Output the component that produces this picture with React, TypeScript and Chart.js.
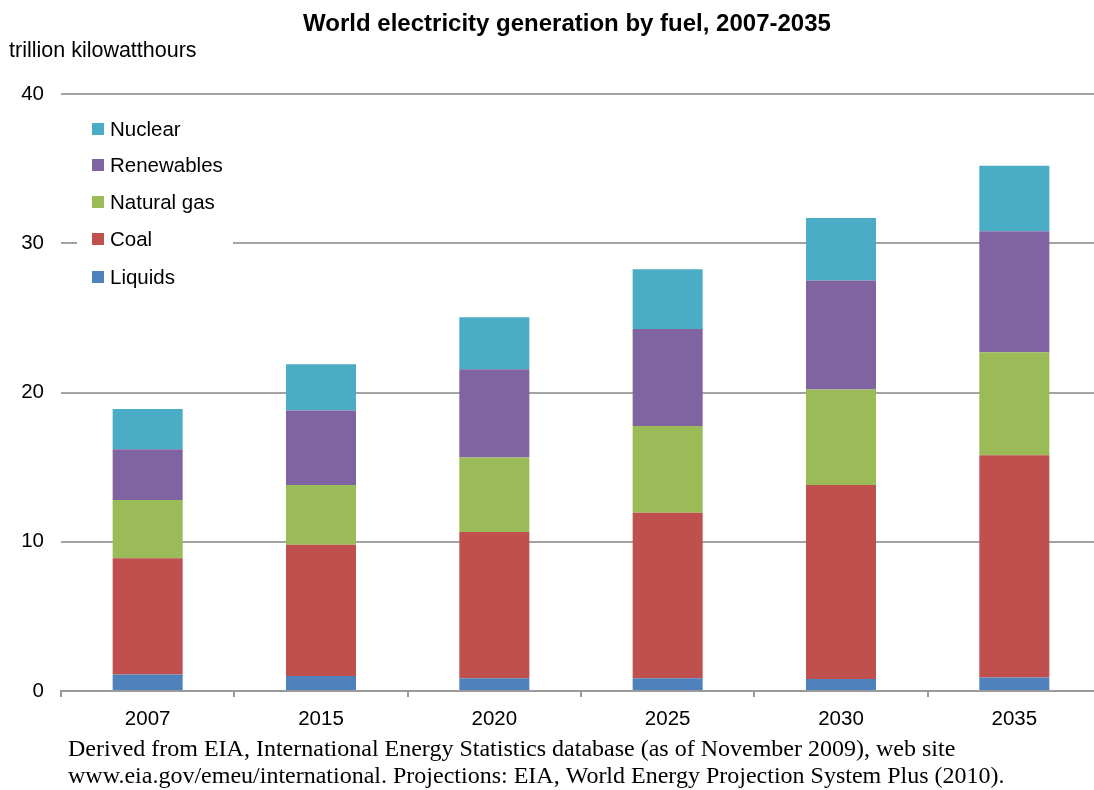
import React, { useEffect, useRef } from "react";
import { Chart, registerables } from "chart.js";

Chart.register(...registerables);

// World electricity generation by fuel (trillion kilowatthours)
const years = ["2007", "2015", "2020", "2025", "2030", "2035"];
const liquids = [1.1, 1.0, 0.85, 0.85, 0.8, 0.9];
const coal = [7.8, 8.8, 9.8, 11.1, 13.0, 14.9];
const naturalGas = [3.9, 4.0, 5.0, 5.8, 6.4, 6.9];
const renewables = [3.4, 5.0, 5.9, 6.5, 7.3, 8.1];
const nuclear = [2.7, 3.1, 3.5, 4.0, 4.2, 4.4];

const yTicks = [0, 10, 20, 30, 40];

const titleText = "World electricity generation by fuel, 2007-2035";
const unitText = "trillion kilowatthours";
const sourceLines = [
  "Derived from EIA, International Energy Statistics database (as of November 2009), web site",
  "www.eia.gov/emeu/international. Projections: EIA, World Energy Projection System Plus (2010).",
];

const COLORS = {
  liquids: "#4f81bd",
  coal: "#c0504d",
  gas: "#9bbb59",
  renewables: "#8064a2",
  nuclear: "#4bacc6",
};

const SANS = "'Liberation Sans', Arial, sans-serif";
const SERIF = "'Liberation Serif', 'Times New Roman', serif";

const W = 1101;
const H = 790;

// Legend entries, top to bottom (reverse of stacking order)
const legendItems = [
  { label: "Nuclear", color: COLORS.nuclear },
  { label: "Renewables", color: COLORS.renewables },
  { label: "Natural gas", color: COLORS.gas },
  { label: "Coal", color: COLORS.coal },
  { label: "Liquids", color: COLORS.liquids },
];
const legendRowCenters = [129, 165, 202, 239, 277];

const annotations = {
  id: "annotations",
  afterDraw(chart: any) {
    const ctx = chart.ctx as CanvasRenderingContext2D;
    ctx.save();

    // Title
    ctx.fillStyle = "#000";
    ctx.font = `bold 24px ${SANS}`;
    ctx.textAlign = "center";
    ctx.textBaseline = "alphabetic";
    ctx.fillText(titleText, 567, 31);

    // Unit label
    ctx.font = `21.5px ${SANS}`;
    ctx.textAlign = "left";
    ctx.fillText(unitText, 9, 57);

    // Legend box (covers the gridline behind it)
    ctx.fillStyle = "#fff";
    ctx.fillRect(77, 108, 156, 188);
    legendItems.forEach((item, i) => {
      const cy = legendRowCenters[i];
      ctx.fillStyle = item.color;
      ctx.fillRect(92, cy - 6, 12, 12);
      ctx.fillStyle = "#000";
      ctx.font = `20.5px ${SANS}`;
      ctx.textAlign = "left";
      ctx.textBaseline = "alphabetic";
      ctx.fillText(item.label, 110, cy + 7);
    });

    // Source note
    ctx.fillStyle = "#000";
    ctx.font = `24px ${SERIF}`;
    ctx.textAlign = "left";
    ctx.fillText(sourceLines[0], 68, 756);
    ctx.fillText(sourceLines[1], 68, 783);

    ctx.restore();
  },
};

export default function App() {
  const canvasRef = useRef<HTMLCanvasElement | null>(null);

  useEffect(() => {
    const canvas = canvasRef.current;
    if (!canvas) return;
    const barPct = 0.404;
    const mk = (label: string, data: number[], color: string) => ({
      label,
      data,
      backgroundColor: color,
      borderWidth: 0,
      barPercentage: barPct,
      categoryPercentage: 1,
    });
    const chart = new Chart(canvas, {
      type: "bar",
      data: {
        labels: years,
        datasets: [
          mk("Liquids", liquids, COLORS.liquids),
          mk("Coal", coal, COLORS.coal),
          mk("Natural gas", naturalGas, COLORS.gas),
          mk("Renewables", renewables, COLORS.renewables),
          mk("Nuclear", nuclear, COLORS.nuclear),
        ],
      },
      options: {
        responsive: false,
        animation: false,
        devicePixelRatio: 1,
        layout: { padding: { top: 94, left: 0, right: 0, bottom: 0 } },
        plugins: {
          legend: { display: false },
          title: { display: false },
          tooltip: { enabled: false },
        },
        scales: {
          x: {
            stacked: true,
            offset: true,
            afterFit: (s: any) => {
              s.height = 99;
            },
            border: { display: true, color: "#9a9a9a", width: 2 },
            grid: {
              offset: true,
              drawOnChartArea: false,
              drawTicks: true,
              tickLength: 6,
              color: "#9a9a9a",
              lineWidth: 2,
            },
            ticks: {
              color: "#000",
              padding: 10,
              font: { family: SANS, size: 20.5 },
              maxRotation: 0,
            },
          },
          y: {
            stacked: true,
            min: 0,
            max: 40,
            afterFit: (s: any) => {
              s.width = 61;
            },
            afterBuildTicks: (s: any) => {
              s.ticks = yTicks.map((v) => ({ value: v }));
            },
            border: { display: false },
            grid: {
              drawTicks: false,
              color: "#a3a3a3",
              lineWidth: 2,
            },
            ticks: {
              color: "#000",
              padding: 17,
              font: { family: SANS, size: 20.5 },
            },
          },
        },
      },
      plugins: [annotations],
    });
    return () => chart.destroy();
  }, []);

  return (
    <div
      style={{
        position: "fixed",
        left: 0,
        top: 0,
        width: 1094,
        height: 790,
        overflow: "hidden",
        background: "#fff",
      }}
    >
      <canvas ref={canvasRef} width={W} height={H} style={{ display: "block", width: W, height: H }} />
    </div>
  );
}
